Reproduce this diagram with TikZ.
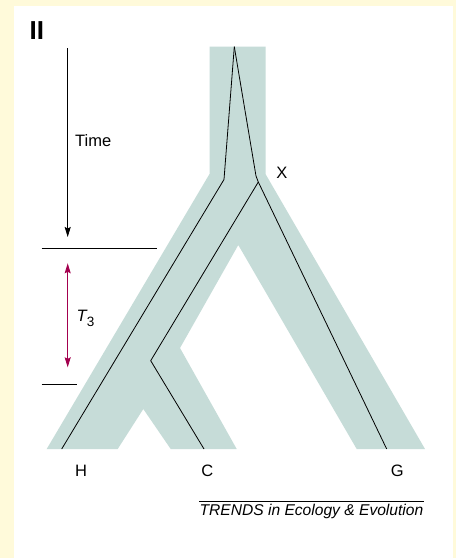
\documentclass[tikz,border=0pt]{standalone}
\usepackage{fontspec}
\setmainfont{Liberation Sans}
\usetikzlibrary{arrows.meta}
\definecolor{bgyellow}{HTML}{FFFADA}
\definecolor{treegray}{HTML}{C6DCD8}
\definecolor{tred}{HTML}{A3004E}
\tikzset{
  genel/.style={draw=black,line width=0.8pt,line join=miter},
  lbl/.style={inner sep=0pt,font=\fontsize{16.5}{19}\selectfont},
  rule/.style={draw=black,line width=0.8pt},
  tip/.style={-{Stealth[length=10pt,width=6pt,inset=1.5pt]}},
}
\begin{document}
\begin{tikzpicture}[x=1pt,y=-1pt]
\useasboundingbox (0,0) rectangle (456,558);
\fill[bgyellow] (0,0) rectangle (456,558);
\fill[white] (14,6) rectangle (453,558);
% species tree
\fill[treegray] (209.5,46.7) -- (265.5,46.7) -- (265.5,174) -- (425,449) -- (356.7,449)
  -- (238.3,245) -- (180,348) -- (236.7,449) -- (170.7,449) -- (143.3,409)
  -- (117.7,449) -- (46.7,449) -- (209.5,174) -- cycle;
% gene tree coordinates
\coordinate (root) at (234.3,46.7);
\coordinate (lk) at (224,179.5);
\coordinate (rk) at (256,176);
\coordinate (xs) at (258.3,182);
\coordinate (ck) at (150.7,360.7);
\coordinate (hend) at (61.7,449);
\coordinate (cend) at (204,449);
\coordinate (gend) at (386.7,449);
\draw[genel] (root) -- (lk) -- (hend);
\draw[genel] (root) -- (rk) -- (xs) -- (ck) -- (cend);
\draw[genel] (xs) -- (gend);
% labels
\node[lbl,anchor=base] (H) at (81,476) {H};
\node[lbl,anchor=base] (C) at (207.3,476) {C};
\node[lbl,anchor=base] (G) at (397.3,476) {G};
\node[lbl,anchor=base] (X) at (282,178.3) {X};
\node[inner sep=0pt,anchor=base west,font=\fontsize{26}{30}\selectfont\bfseries] (II) at (29.5,39.3) {II};
% time arrow
\coordinate (ttop) at (67.7,48.3);
\coordinate (tbot) at (67.7,237);
\draw[rule,tip] (ttop) -- (tbot);
\node[lbl,anchor=base west] (time) at (75,146.7) {Time};
% horizontal markers
\coordinate (h1a) at (41.7,248.7);
\coordinate (h1b) at (156.7,248.7);
\coordinate (h2a) at (41.7,384.3);
\coordinate (h2b) at (76.7,384.3);
\draw[rule] (h1a) -- (h1b);
\draw[rule] (h2a) -- (h2b);
% T3 arrow
\coordinate (t3a) at (67.7,263.3);
\coordinate (t3b) at (67.7,367.3);
\draw[tred,line width=0.9pt,{Stealth[length=10pt,width=6pt,inset=1.5pt]}-{Stealth[length=10pt,width=6pt,inset=1.5pt]}] (t3a) -- (t3b);
\node[lbl,anchor=base west] (T3) at (76.5,321.7) {\itshape T\upshape\raisebox{-5pt}{\fontsize{13.5}{14}\selectfont 3}};
% credit
\node[inner sep=0pt,anchor=base east,font=\fontsize{15.6}{18}\selectfont\itshape] (trends) at (423.5,515.7) {TRENDS in Ecology \& Evolution};
\draw[line width=0.7pt] (trends.west |- 0,501) -- (trends.east |- 0,501);
\end{tikzpicture}
\end{document}
